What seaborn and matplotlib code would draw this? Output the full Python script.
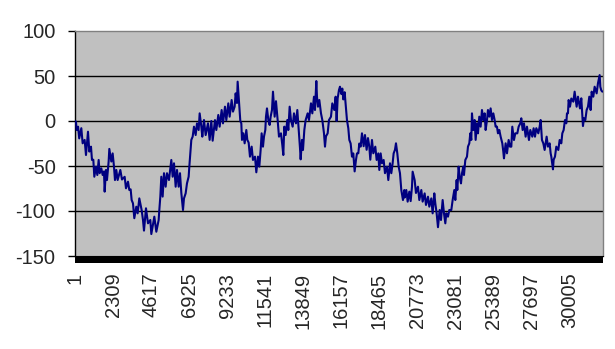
import matplotlib
matplotlib.use("Agg")
import matplotlib.pyplot as plt
from matplotlib.patches import Rectangle
import seaborn as sns
import pandas as pd

# ---- data (category index, value) ----
step_index = [
    1, 60, 100, 188, 257, 384, 465, 586, 667, 789, 870, 971, 1031, 1112, 1173, 1274, 1355,
    1436, 1496, 1597, 1678, 1759, 1800, 1880, 1941, 2042, 2083, 2204, 2285, 2366, 2426,
    2507, 2588, 2750, 2851, 3013, 3094, 3215, 3296, 3377, 3437, 3518, 3599, 3720, 3801,
    3902, 4044, 4125, 4186, 4307, 4429, 4570, 4631, 4813, 4934, 5076, 5116, 5177, 5237,
    5318, 5399, 5500, 5581, 5702, 5844, 5925, 6006, 6107, 6188, 6289, 6370, 6451, 6552,
    6612, 6713, 6794, 6895, 6936, 6997, 7057, 7138, 7219, 7320, 7401, 7502, 7563, 7664,
    7724, 7825, 7927,
    8068, 8169, 8270, 8351, 8492, 8573, 8694, 8775, 8897, 8978, 9099, 9180, 9301, 9382,
    9503, 9584, 9685, 9746, 9827, 9867, 9928, 9989, 10029, 10090, 10130, 10211, 10292,
    10393, 10454, 10535, 10615, 10717, 10797, 10919, 11000, 11101, 11182, 11262, 11323,
    11404, 11465, 11545, 11586, 11647, 11728, 11808, 11869, 11950, 12011,
    12112, 12193, 12294, 12375, 12496, 12577, 12638, 12698, 12779, 12880, 12941, 13022,
    13103, 13204, 13285, 13406, 13487, 13588, 13649, 13689, 13770, 13831, 13912, 13993,
    14114, 14195, 14316, 14397, 14498, 14559, 14640, 14680, 14741, 14822, 14923, 15004,
    15105, 15166, 15226, 15327, 15408, 15529, 15610, 15731, 15812, 15872, 15933, 16014,
    16075, 16156, 16216, 16277, 16358, 16439, 16499, 16580, 16641, 16722, 16803, 16883,
    16964, 17045, 17106, 17187, 17247, 17328, 17409, 17510, 17591, 17692, 17773, 17854,
    17915, 18016, 18097, 18218, 18299, 18400, 18461, 18542, 18622, 18724, 18805, 18926,
    19007, 19108, 19189, 19269, 19330, 19411, 19472, 19553, 19634, 19714, 19795, 19896,
    19977, 19998,
    20099, 20180, 20281, 20362, 20443, 20483, 20604, 20685, 20807, 20888, 21009, 21090,
    21211, 21292, 21413, 21494, 21615, 21696, 21797, 21858, 21939, 22020, 22121, 22202,
    22303, 22384, 22465, 22525, 22626, 22707, 22829, 22910, 23011, 23071, 23152, 23192,
    23273, 23334, 23415, 23476, 23557, 23597, 23678, 23779, 23839, 23920, 23980, 24041,
    24082, 24163, 24243, 24304, 24385, 24446, 24526, 24607, 24688, 24769, 24850, 24911,
    24992, 25052, 25133, 25214, 25295, 25376, 25457, 25517, 25598, 25659, 25740, 25821,
    25922, 25983, 26023, 26124, 26205, 26306, 26387, 26468, 26528, 26629, 26710, 26832,
    26913, 27013, 27074, 27155, 27236, 27337, 27418, 27539, 27620, 27741, 27822,
    27904, 27985, 28106, 28187, 28247, 28288, 28328, 28409, 28490, 28611, 28692, 28793,
    28854, 28895, 28995, 29036, 29117, 29198, 29319, 29400, 29501, 29562, 29643, 29724,
    29804, 29845, 29905, 29946, 30027, 30108, 30229, 30310, 30431, 30512, 30633, 30714,
    30815, 30876, 30957, 31038, 31119, 31200, 31281, 31341, 31442, 31523, 31645, 31725,
    31826, 31867, 31927, 31988,
]
walk_value = [
    0, -1, -10, -6.3, -19.3, -8, -24.8, -21, -37.8, -11.9, -34, -28.5, -43.3, -43, -61.9, -50.7, -60,
    -43.3, -58, -52.6, -60, -56, -78.5, -54.4, -65.6, -45, -31, -45, -36, -50.7, -65.6,
    -54.4, -65.6, -54.4, -65, -62, -74.8, -67.4, -76.7, -76, -87.8, -91.5, -108, -95.2, -102.6,
    -86, -99, -110, -121.8, -97, -113.7, -110, -125.6, -106.3, -123, -110, -98.9, -84, -61.9,
    -84, -58, -73, -58, -65.6, -43.3, -61.9, -47, -73, -54.4, -73, -58, -80, -98.9,
    -86, -80.4, -69.3, -61.9, -50.7, -35.9, -21, -17.4, -6.3, -15.6, -2.6, -10, 8.5, -6.3,
    -17.4, 1.1, -15.6,
    -2.6, -21, 0, -21.9, 1, -10, 6.7, -6.3, 12.2, -2.6, 15.9, 1, 19.6, 4.8,
    23.3, 10.4, 15.9, 30.7, 20, 43.7, 27, 10, 0, -2.6, -21, -13.7, -24.8,
    -10, -21, -24, -39.6, -28.5, -43.3, -39.6, -57, -39.6, -50.7, -32.2, -13.7,
    -28.5, -17.4, -10, 4.8, 14, 1.1, -4.4, 4.8, 12.2, 32.6,
    4.8, 22, 1, -17.4, -13.7, -26.7, -37.8, -6.3, -15.6, 1.1, -10, 15.9,
    1, -6.3, 8.5, -2.6, 12.2, -13.7, -30, -42.6, -21, -32.2, -10, 1.1,
    8.5, 1.1, 19.6, 8.5, 27, 12.2, 44.4, 27, 15.9, 23.3, 8.5, 1.1,
    -13.7, -28.5, -17, -13.7, 1.1, 4.8, 19.6, 12.2, 27, 0, 25, 34.4,
    38.1, 30, 36, 24, 32, 14, 1, -8, -21, -25, -39.6, -36,
    -56, -43.3, -36, -35.9, -25, -28.5, -13.7, -28, -15.6, -32, -19, -28.5,
    -43, -21.1, -35.9, -28.5, -43.3, -36, -54.4, -36, -47, -43.3, -58, -50.7,
    -65.6, -47, -58, -47, -36, -32, -24.8, -36, -50.7, -58, -76.7, -87.8,
    -76.7, -85,
    -76.7, -89.6, -78.5, -89, -73, -56.3, -65.6, -80, -73, -87.8, -76.7, -89.6,
    -80.4, -93.3, -84.1, -95.2, -86, -102.6, -80.4, -91.5, -102.6, -118, -98.9, -110,
    -87.8, -102.6, -113.7, -102.6, -106.3, -98.9, -98.9, -87.8, -76.7, -87.8, -65.6, -76.7,
    -50.7, -61.9, -69.3, -58.1, -50.7, -60, -43.3, -39.6, -28.5, -24.8, -13.7, -21,
    8.5, -10, 1.1, -21, -2.6, -13.7, 4.8, -6.3, 12.2, 1, 8.5, -10,
    1, 12.2, 4.8, 14, 1.1, 8.5, 1.1, -6.3, -6.3, -13.7, -10, -17.4,
    -24.8, -34, -41.5, -24.8, -35.9, -21.1, -28.5, -28.5, -6.3, -21.1, -13.7, -13.7,
    -6.3, -2.6, 3, -10, -2.6, -17.4, -6.3, -21.1, -10, -17.4, -8.1,
    -17.4, -8, -13.7, -6.3, 1.1, -10, -21.1, -24.8, -32.2, -17.4, -28.5, -24.8,
    -35.9, -39.6, -53.7, -43, -39.6, -28.5, -32.2, -21.1, -24.8, -13.7, -10, 1.1,
    -2.6, 8.5, 8.5, 23.3, 15.9, 25, 21.5, 32.6, 15.9, 27, 14, 25.2,
    -5.6, 3, 1, 12.2, 15.9, 27, 12.2, 32.6, 27, 38.1, 30.7, 41.9,
    51, 38, 34, 32.6,
]
tick_positions = [1, 2309, 4617, 6925, 9233, 11541, 13849, 16157, 18465,
                  20773, 23081, 25389, 27697, 30005]
tick_labels = [str(t) for t in tick_positions]
y_ticks = [-150, -100, -50, 0, 50, 100]
n_points = 32000

df = pd.DataFrame({"step": step_index, "value": walk_value})

sns.set_style("white")
plt.rcParams["font.family"] = ["Liberation Sans", "DejaVu Sans"]

fig = plt.figure(figsize=(6.15, 3.49), dpi=100)
ax = fig.add_axes([75 / 615, 1 - 256 / 349, 527.5 / 615, 225 / 349])
ax.set_facecolor("#C0C0C0")

for yv in [-100, -50, 0, 50]:
    ax.axhline(yv, color="black", lw=1.0, zorder=1)

sns.lineplot(data=df, x="step", y="value", ax=ax, color="#000080",
             lw=1.5, zorder=3, estimator=None, sort=False)

ax.set_xlim(1, n_points)
ax.set_ylim(-150, 100)
ax.set_yticks(y_ticks)
ax.set_yticklabels([str(v) for v in y_ticks], fontsize=14.5)
ax.set_xticks(tick_positions)
ax.set_xticklabels(tick_labels, rotation=90, fontsize=14.5)
ax.set_xlabel("")
ax.set_ylabel("")

ax.tick_params(axis="y", length=5, width=1, color="black", pad=9, left=True)
ax.tick_params(axis="x", length=0, pad=12)

for side in ["top", "right"]:
    ax.spines[side].set_color("#808080")
    ax.spines[side].set_linewidth(1.0)
ax.spines["left"].set_color("black")
ax.spines["left"].set_linewidth(1.0)
ax.spines["bottom"].set_color("black")

# dense category tick marks form a solid black band under the axis
ax.add_patch(Rectangle((0, -7 / 225), 1, 7 / 225, transform=ax.transAxes,
                       facecolor="black", edgecolor="none", clip_on=False, zorder=5))

fig.savefig("out.png", dpi=100, facecolor="white")
